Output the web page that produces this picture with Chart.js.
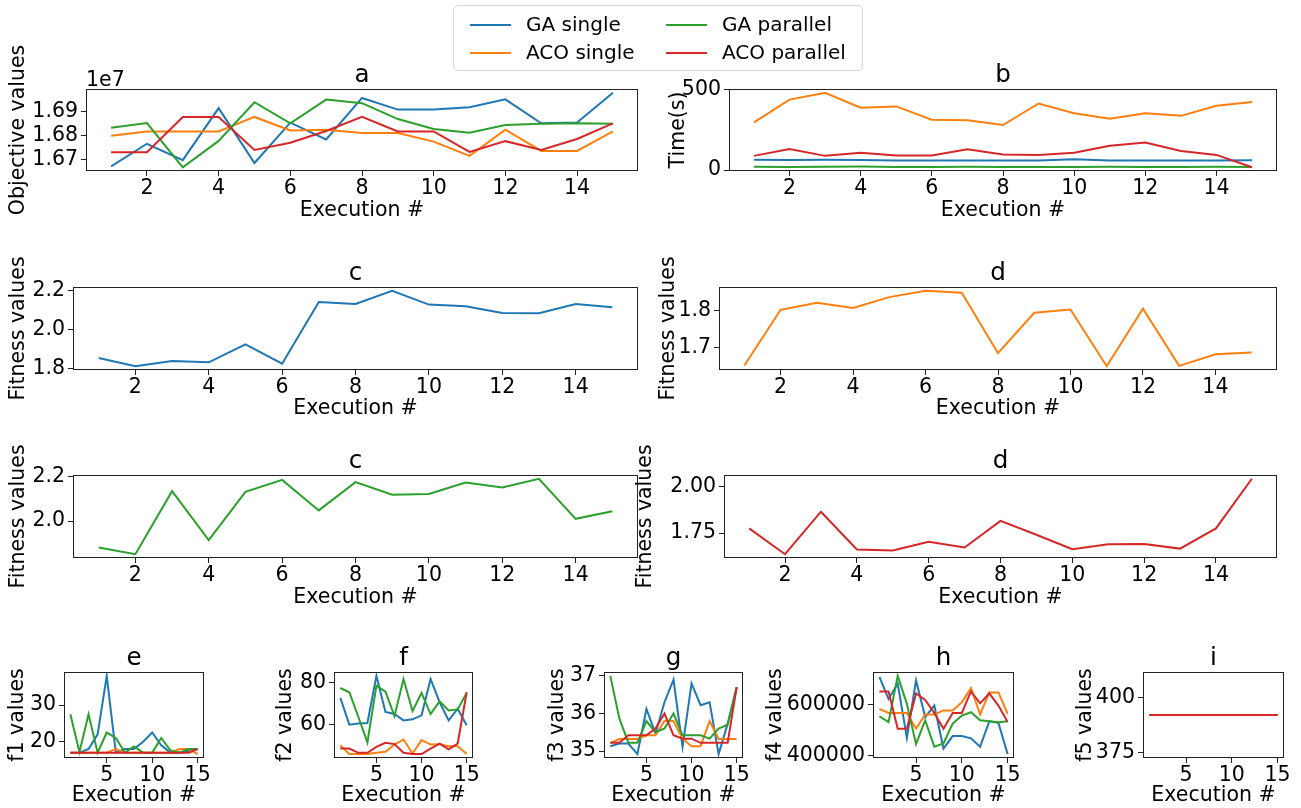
<!DOCTYPE html>
<html><head><meta charset="utf-8">
<script src="https://cdn.jsdelivr.net/npm/chart.js@4.4.1/dist/chart.umd.min.js"></script>
<style>
body{margin:0;background:#fff;}
#wrap{position:relative;width:1301px;height:808px;overflow:hidden;font-family:"DejaVu Sans",sans-serif;background:#fff;}
canvas{position:absolute;}
#legend{position:absolute;left:453px;top:5px;width:410px;height:66px;border:1px solid #d4d4d4;border-radius:5px;background:rgba(255,255,255,0.85);z-index:5;box-sizing:border-box;}
.item{position:absolute;font-size:20px;color:#000;line-height:23px;white-space:nowrap;font-family:"DejaVu Sans",sans-serif;}
.sw{position:absolute;height:2px;width:41px;}
</style></head><body><div id="wrap"><div id="legend"></div></div>
<script>
// ---- data ----
const executions = [1,2,3,4,5,6,7,8,9,10,11,12,13,14,15];
const seriesNames = ['GA single','ACO single','GA parallel','ACO parallel'];
const seriesColors = ['#1f77b4','#ff7f0e','#2ca02c','#d62728'];
const xTicksWide = [2,4,6,8,10,12,14];
const xTicksSmall = [5,10,15];

// a: objective values
const objGASingle   = [16671000,16766000,16697000,16916000,16685000,16855000,16784000,16959000,16910000,16910000,16920000,16953000,16852000,16856000,16981000];
const objACOSingle  = [16800000,16818000,16818000,16818000,16879000,16822000,16825000,16811000,16811000,16775000,16715000,16825000,16736000,16736000,16818000];
const objGAParallel = [16833000,16853000,16667000,16778000,16941000,16852000,16952000,16937000,16870000,16828000,16812000,16845000,16850000,16852000,16850000];
const objACOParallel= [16730000,16730000,16879000,16879000,16740000,16770000,16820000,16879000,16818000,16818000,16732000,16777000,16740000,16786000,16852000];
const objTicks = [16700000,16800000,16900000];

// b: time
const timeGASingle   = [65,63,65,63,60,60,60,60,60,68,60,60,60,60,62];
const timeACOSingle  = [297,439,482,389,397,314,310,281,415,354,320,354,338,401,425];
const timeGAParallel = [22,20,22,23,20,20,22,20,20,20,22,20,20,22,20];
const timeACOParallel= [89,132,89,109,91,91,130,97,95,109,152,172,119,95,18];
const timeTicks = [0,500];

// c / d fitness
const fitGASingle   = [1.854,1.812,1.839,1.832,1.925,1.825,2.142,2.132,2.2,2.129,2.12,2.086,2.085,2.132,2.115];
const fitACOSingle  = [1.652,1.801,1.82,1.806,1.835,1.852,1.847,1.685,1.793,1.802,1.650,1.804,1.651,1.682,1.687];
const fitGAParallel = [1.88,1.85,2.135,1.914,2.132,2.186,2.048,2.176,2.119,2.122,2.174,2.152,2.191,2.01,2.044];
const fitACOParallel= [1.775,1.637,1.864,1.662,1.657,1.704,1.673,1.815,1.741,1.664,1.69,1.692,1.667,1.775,2.04];
const fitTicksC1 = [1.8,2.0,2.2];
const fitTicksD1 = [1.7,1.8];
const fitTicksC2 = [2.0,2.2];
const fitTicksD2 = [1.75,2.00];

// e: f1
const f1GASingle   = [17,17,18,22,38,17,18,18,20,22.5,19,17,17,17.5,18];
const f1ACOSingle  = [17,17,17,17,17,18,17,17,17,17,17,17,18,18,16.6];
const f1GAParallel = [27.5,17.2,27.5,17,22.5,21,17,18.7,17,17,21,17.6,17,18,18];
const f1ACOParallel= [17,17,17,17,17,17,17,17,17,17,17,17,17,17,18];
const f1Ticks = [20,30];

// f: f2
const f2GASingle   = [72.7,60,60.5,60.8,83,66,65,62,62.5,64.4,81.5,70.6,62,67.5,59.7];
const f2ACOSingle  = [50.3,46.1,46.1,46.1,46.7,47.2,50.6,53,46.4,52.7,50.6,50.8,49.8,49.8,46.1];
const f2GAParallel = [77.3,75.3,63.6,51.6,78.4,75.6,64,81.5,66.4,75,65,71,66.7,67.2,75];
const f2ACOParallel= [48.7,48.7,46.7,46.7,49.5,51.4,50.8,46.7,46.1,46.1,48.7,51,48.3,51,75.3];
const f2Ticks = [60,80];

// g: f3
const f3GASingle   = [35.13,35.2,35.2,34.92,36.12,35.47,36.3,36.9,35.11,36.8,36.22,36.3,34.92,35.73,36.7];
const f3ACOSingle  = [35.22,35.32,35.32,35.32,35.42,35.42,35.8,35.8,35.33,35.13,35.13,35.8,35.32,35.32,35.32];
const f3GAParallel = [37,35.87,35.22,35.22,35.8,35.5,35.6,36,35.42,35.42,35.42,35.33,35.6,35.7,36.7];
const f3ACOParallel= [35.22,35.22,35.42,35.42,35.42,35.6,36,35.42,35.33,35.33,35.22,35.22,35.22,35.22,36.7];
const f3Ticks = [35,36,37];

// h: f4
const f4GASingle   = [710000,623000,684000,470000,697000,552000,597000,428000,477000,477000,468000,435000,535000,529000,406000];
const f4ACOSingle  = [584000,568000,568000,568000,506000,562000,562000,578000,578000,610000,666000,562000,649000,649000,565000];
const f4GAParallel = [555000,532000,714000,604000,445000,539000,435000,448000,526000,558000,571000,539000,535000,531000,535000];
const f4ACOParallel= [653000,653000,506000,506000,645000,619000,568000,506000,568000,568000,653000,606000,645000,597000,532000];
const f4Ticks = [400000,600000];

// i: f5
const f5GASingle   = [392,392,392,392,392,392,392,392,392,392,392,392,392,392,392];
const f5ACOSingle  = [392,392,392,392,392,392,392,392,392,392,392,392,392,392,392];
const f5GAParallel = [392,392,392,392,392,392,392,392,392,392,392,392,392,392,392];
const f5ACOParallel= [392,392,392,392,392,392,392,392,392,392,392,392,392,392,392];
const f5Ticks = [375,400];

// ---- drawing ----
const FONT = '"DejaVu Sans", sans-serif';
const FS = 20.5, TFS = 24.6;
const wrap = document.getElementById('wrap');

function dataRange(arrays){
  let mn = Infinity, mx = -Infinity;
  arrays.forEach(a => a.forEach(v => { mn = Math.min(mn, v); mx = Math.max(mx, v); }));
  if (mx - mn < 1e-9) { const e = Math.abs(mn) * 0.05; return [mn - e, mx + e]; }
  const m = (mx - mn) * 0.05;
  return [mn - m, mx + m];
}

function panel(p){
  const lh = FS * 1.2;
  const cl = Math.round(p.ylabX - lh / 2);
  const ct = p.box[1] - 55;
  const YW = p.box[0] - cl;
  const PT = p.box[1] - ct;
  const PR = 14;
  const w = YW + (p.box[2] - p.box[0]) + PR;
  const h = PT + (p.box[3] - p.box[1]) + p.XH;
  const c = document.createElement('canvas');
  c.width = w; c.height = h;
  c.style.left = cl + 'px'; c.style.top = ct + 'px';
  c.style.width = w + 'px'; c.style.height = h + 'px';
  wrap.appendChild(c);
  const yr = dataRange(p.series.map(s => s.data));
  const deco = {
    id: 'deco',
    afterDraw(chart){
      const ctx = chart.ctx, a = chart.chartArea;
      ctx.save();
      ctx.strokeStyle = '#222'; ctx.lineWidth = 1;
      ctx.strokeRect(Math.round(a.left) + 0.5, Math.round(a.top) + 0.5, Math.round(a.right - a.left) - 1, Math.round(a.bottom - a.top) - 1);
      ctx.fillStyle = '#000';
      ctx.font = TFS + 'px ' + FONT;
      ctx.textAlign = 'center'; ctx.textBaseline = 'alphabetic';
      ctx.fillText(p.title, (a.left + a.right) / 2, a.top - 7);
      if (p.offsetText) {
        ctx.font = FS + 'px ' + FONT;
        ctx.textAlign = 'left';
        ctx.fillText(p.offsetText, a.left, a.top - 3);
      }
      ctx.restore();
    }
  };
  new Chart(c, {
    type: 'line',
    data: {
      datasets: p.series.map(s => ({
        label: seriesNames[s.idx],
        data: s.data.map((v, i) => ({x: executions[i], y: v})),
        borderColor: seriesColors[s.idx],
        backgroundColor: seriesColors[s.idx],
        borderWidth: 2, pointRadius: 0, tension: 0, fill: false,
        order: 4 - s.idx
      }))
    },
    options: {
      responsive: false, animation: false, devicePixelRatio: 1,
      layout: {padding: {top: PT, right: PR, left: 0, bottom: 0}},
      plugins: {legend: {display: false}, tooltip: {enabled: false}},
      scales: {
        x: {
          type: 'linear', min: 0.3, max: 15.7,
          afterBuildTicks: s => { s.ticks = p.xTicks.map(v => ({value: v})); },
          afterFit: s => { s.height = p.XH; s.paddingLeft = 0; s.paddingRight = 0; },
          ticks: {autoSkip: false, maxRotation: 0, minRotation: 0, padding: 0, color: '#000', font: {family: FONT, size: FS}},
          grid: {display: true, drawOnChartArea: false, drawTicks: true, tickLength: 5, color: '#222', tickColor: '#222'},
          border: {display: false},
          title: {display: true, text: 'Execution #', color: '#000', font: {family: FONT, size: FS}, padding: 0}
        },
        y: {
          type: 'linear', min: yr[0], max: yr[1],
          afterBuildTicks: s => { s.ticks = p.yTicks.map(v => ({value: v})); },
          afterFit: s => { s.width = YW; s.paddingTop = 0; s.paddingBottom = 0; },
          ticks: {autoSkip: false, padding: 3, color: '#000', font: {family: FONT, size: FS}, callback: v => p.fmt(v)},
          grid: {display: true, drawOnChartArea: false, drawTicks: true, tickLength: 5, color: '#222', tickColor: '#222'},
          border: {display: false},
          title: {display: true, text: p.ylabel, color: '#000', font: {family: FONT, size: FS}, padding: 0}
        }
      }
    },
    plugins: [deco]
  });
}

const all4 = (a, b, c, d) => [{idx: 0, data: a}, {idx: 1, data: b}, {idx: 2, data: c}, {idx: 3, data: d}];
const fix = n => v => Number(v).toFixed(n);

panel({box: [86, 89, 638, 171], ylabX: 18, XH: 52, title: 'a', ylabel: 'Objective values', xTicks: xTicksWide, yTicks: objTicks,
  fmt: v => (v / 1e7).toFixed(2), offsetText: '1e7', series: all4(objGASingle, objACOSingle, objGAParallel, objACOParallel)});
panel({box: [729, 89, 1277, 171], ylabX: 678, XH: 52, title: 'b', ylabel: 'Time(s)', xTicks: xTicksWide, yTicks: timeTicks,
  fmt: fix(0), series: all4(timeGASingle, timeACOSingle, timeGAParallel, timeACOParallel)});
panel({box: [73, 287, 638, 370], ylabX: 18, XH: 51, title: 'c', ylabel: 'Fitness values', xTicks: xTicksWide, yTicks: fitTicksC1,
  fmt: fix(1), series: [{idx: 0, data: fitGASingle}]});
panel({box: [719, 287, 1277, 370], ylabX: 668, XH: 51, title: 'd', ylabel: 'Fitness values', xTicks: xTicksWide, yTicks: fitTicksD1,
  fmt: fix(1), series: [{idx: 1, data: fitACOSingle}]});
panel({box: [73, 475, 638, 558], ylabX: 18, XH: 52, title: 'c', ylabel: 'Fitness values', xTicks: xTicksWide, yTicks: fitTicksC2,
  fmt: fix(1), series: [{idx: 2, data: fitGAParallel}]});
panel({box: [724, 475, 1277, 558], ylabX: 645, XH: 52, title: 'd', ylabel: 'Fitness values', xTicks: xTicksWide, yTicks: fitTicksD2,
  fmt: fix(2), series: [{idx: 3, data: fitACOParallel}]});
panel({box: [64, 672, 204, 758], ylabX: 17, XH: 50, title: 'e', ylabel: 'f1 values', xTicks: xTicksSmall, yTicks: f1Ticks,
  fmt: fix(0), series: all4(f1GASingle, f1ACOSingle, f1GAParallel, f1ACOParallel)});
panel({box: [334, 672, 473, 758], ylabX: 285, XH: 50, title: 'f', ylabel: 'f2 values', xTicks: xTicksSmall, yTicks: f2Ticks,
  fmt: fix(0), series: all4(f2GASingle, f2ACOSingle, f2GAParallel, f2ACOParallel)});
panel({box: [604, 672, 743, 758], ylabX: 557, XH: 50, title: 'g', ylabel: 'f3 values', xTicks: xTicksSmall, yTicks: f3Ticks,
  fmt: fix(0), series: all4(f3GASingle, f3ACOSingle, f3GAParallel, f3ACOParallel)});
panel({box: [873, 672, 1014, 758], ylabX: 775, XH: 50, title: 'h', ylabel: 'f4 values', xTicks: xTicksSmall, yTicks: f4Ticks,
  fmt: fix(0), series: all4(f4GASingle, f4ACOSingle, f4GAParallel, f4ACOParallel)});
panel({box: [1143, 672, 1284, 758], ylabX: 1085, XH: 50, title: 'i', ylabel: 'f5 values', xTicks: xTicksSmall, yTicks: f5Ticks,
  fmt: fix(0), series: all4(f5GASingle, f5ACOSingle, f5GAParallel, f5ACOParallel)});

// legend (two columns, filled column-wise as in the original)
const legend = document.getElementById('legend');
const legendPos = [[16, 19], [16, 47], [212, 19], [212, 47]];
seriesNames.forEach((name, i) => {
  const [lx, ly] = legendPos[i];
  const sw = document.createElement('div');
  sw.className = 'sw'; sw.style.left = lx + 'px'; sw.style.top = (ly - 1) + 'px'; sw.style.background = seriesColors[i];
  legend.appendChild(sw);
  const t = document.createElement('div');
  t.className = 'item'; t.textContent = name; t.style.left = (lx + 56) + 'px'; t.style.top = (ly - 12) + 'px';
  legend.appendChild(t);
});
</script>
</body></html>
